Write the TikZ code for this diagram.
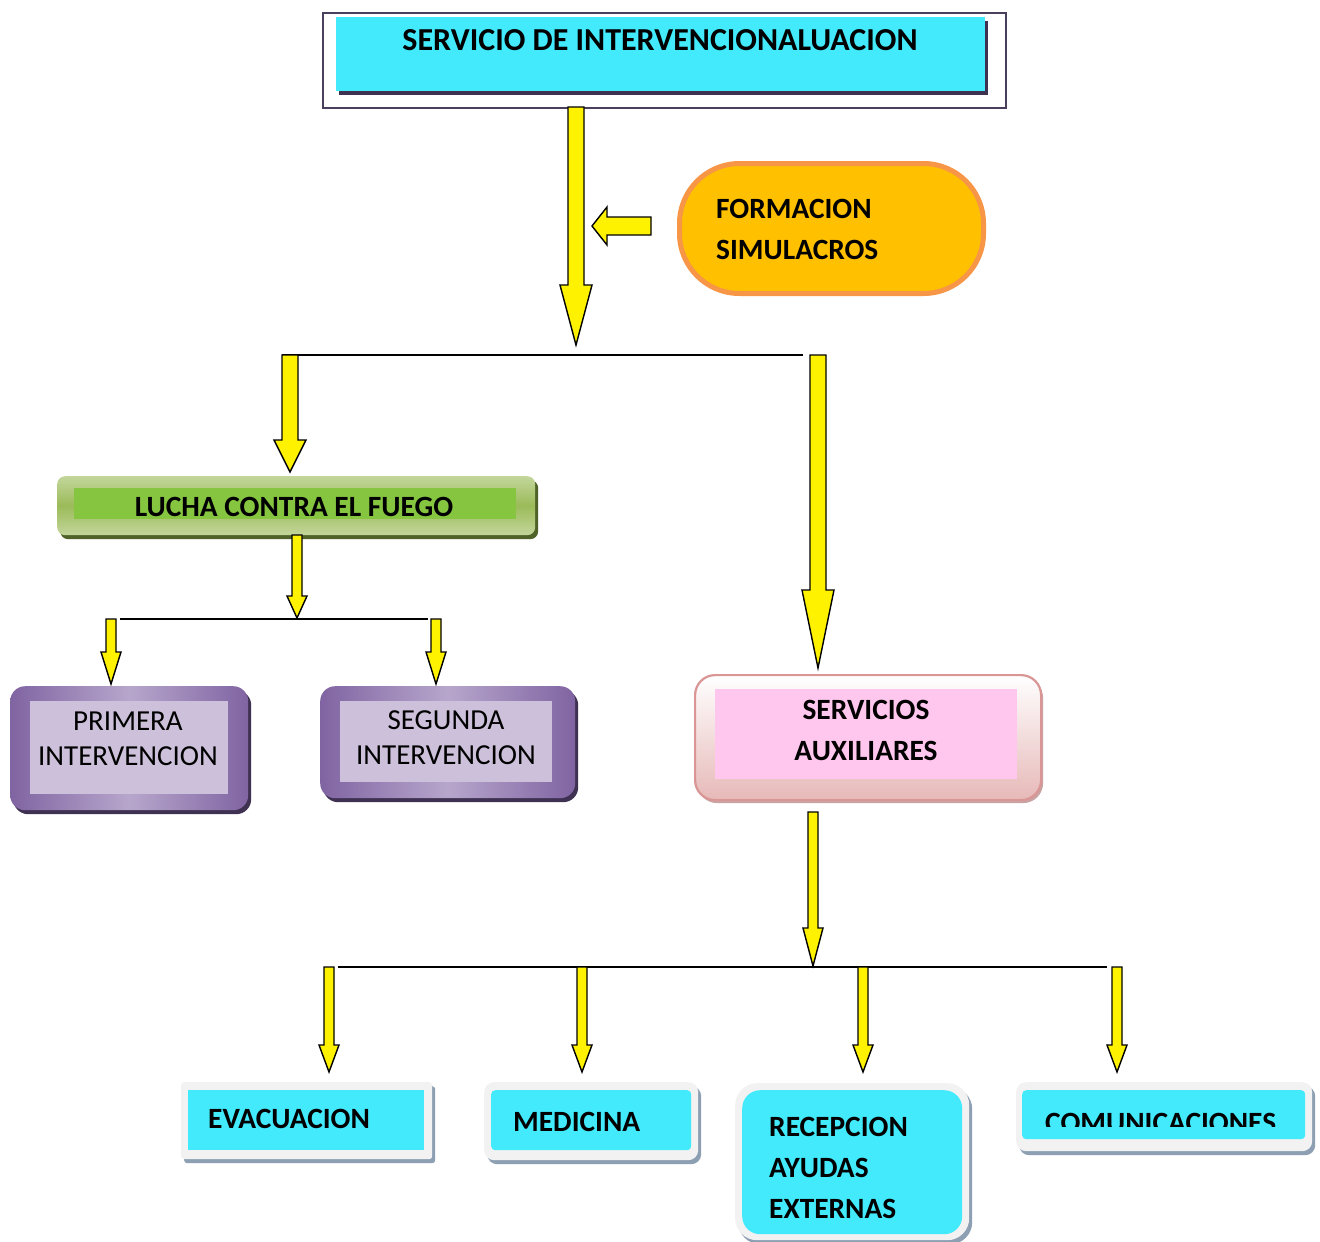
\documentclass[tikz,border=0pt]{standalone}
\usepackage{fontspec}
\setmainfont{Carlito}
\usetikzlibrary{calc,shadows}
\definecolor{cyanc}{HTML}{42EAFC}
\definecolor{framec}{HTML}{4B3F5E}
\definecolor{purdark}{HTML}{3F3151}
\definecolor{orfill}{HTML}{FFC000}
\definecolor{orline}{HTML}{F79646}
\definecolor{grlight}{HTML}{C3D69B}
\definecolor{grmid}{HTML}{9BBB59}
\definecolor{grinner}{HTML}{86C540}
\definecolor{grshadow}{HTML}{4F6228}
\definecolor{pudark}{HTML}{8064A2}
\definecolor{pulight}{HTML}{B7A6CC}
\definecolor{puinner}{HTML}{CCC0DA}
\definecolor{pkline}{HTML}{D99694}
\definecolor{pkbottom}{HTML}{E6B9B8}
\definecolor{pkinner}{HTML}{FFC6EE}
\definecolor{pkshadow}{HTML}{C9A3A3}
\definecolor{lgframe}{HTML}{F2F2F2}
\definecolor{lgshadow}{HTML}{8D9FB2}
\tikzset{
  bftext/.style={font=\fontsize{29.4}{41}\selectfont\bfseries, inner sep=0pt},
  toptextstyle/.style={font=\fontsize{32}{41}\selectfont\bfseries, inner sep=0pt},
  rgtext/.style={font=\fontsize{29}{35}\selectfont, inner sep=0pt},
  barrowstyle/.style={fill=yellow, draw=black, line width=1.4pt, line join=miter},
  hline/.style={draw=black, line width=1.5pt},
  box/.style={inner sep=0pt, anchor=north west},
  bottomframe/.style={box, fill=lgframe, drop shadow={shadow xshift=3pt, shadow yshift=-4pt, fill=lgshadow, opacity=1}},
  bottominner/.style={box, fill=cyanc},
}
\newcommand{\barr}[5]{%
  \filldraw[barrowstyle] let \p1=(#1), \p2=(#2) in
   (\x1-#3,\y1) -- (\x1+#3,\y1) -- (\x1+#3,\y2+#5) -- (\x1+#4,\y2+#5) -- (\x2,\y2)
   -- (\x1-#4,\y2+#5) -- (\x1-#3,\y2+#5) -- cycle;}
\begin{document}
\begin{tikzpicture}[x=1pt,y=-1pt]
\useasboundingbox[fill=white] (0,0) rectangle (1320,1242);

% ---------- top box
\node[box, draw=framec, line width=1.6pt, minimum width=683, minimum height=95] (frame) at (322,12) {};
\node[box, fill=cyanc, minimum width=649, minimum height=74,
      drop shadow={shadow xshift=3pt, shadow yshift=-4pt, fill=purdark, opacity=1}] (top) at (336,17) {};
\node[toptextstyle] (toptext) at (660,40) {SERVICIO DE INTERVENCIONALUACION};

% ---------- formacion
\node[box, fill=orfill, draw=orline, line width=5pt, rounded corners=60pt,
      minimum width=304, minimum height=130] (form) at (677,161) {};
\node[bftext, align=left, anchor=west] (formtext) at (716,229.5) {FORMACION\\SIMULACROS};

% ---------- lucha
\node[box, rounded corners=8pt, top color=grlight, bottom color=grlight, middle color=grmid,
      minimum width=478, minimum height=59,
      drop shadow={shadow xshift=3pt, shadow yshift=-4pt, fill=grshadow, opacity=1}] (lucha) at (57,476) {};
\node[box, fill=grinner, minimum width=442, minimum height=31] (luchain) at (74,488) {};
\node[bftext] (luchatext) at (294,507) {LUCHA CONTRA EL FUEGO};

% ---------- primera / segunda
\node[box, rounded corners=15pt, left color=pudark, right color=pudark, middle color=pulight,
      minimum width=238, minimum height=124,
      drop shadow={shadow xshift=3pt, shadow yshift=-4pt, fill=purdark, opacity=1}] (prim) at (10,686) {};
\node[box, fill=puinner, minimum width=198, minimum height=93] (primin) at (30,701) {};
\node[rgtext, align=center] (primtext) at (128,738.5) {PRIMERA\\INTERVENCION};

\node[box, rounded corners=15pt, left color=pudark, right color=pudark, middle color=pulight,
      minimum width=255, minimum height=112,
      drop shadow={shadow xshift=3pt, shadow yshift=-4pt, fill=purdark, opacity=1}] (seg) at (320,686) {};
\node[box, fill=puinner, minimum width=212, minimum height=81] (segin) at (340,701) {};
\node[rgtext, align=center] (segtext) at (446,738) {SEGUNDA\\INTERVENCION};

% ---------- servicios auxiliares
\node[box, rounded corners=20pt, top color=white, bottom color=pkbottom, draw=pkline, line width=2.2pt,
      minimum width=346, minimum height=125,
      drop shadow={shadow xshift=2pt, shadow yshift=-3pt, fill=pkshadow, opacity=1}] (aux) at (694,674) {};
\node[box, fill=pkinner, minimum width=302, minimum height=90] (auxin) at (715,689) {};
\node[bftext, align=center] (auxtext) at (866,730.5) {SERVICIOS\\AUXILIARES};

% ---------- bottom boxes
\node[bottomframe, rounded corners=3pt, minimum width=251, minimum height=77] (evac) at (181,1082) {};
\node[bottominner, minimum width=236, minimum height=60] (evacin) at (188,1090) {};
\node[bftext, anchor=west] (evactext) at (208,1119) {EVACUACION};

\node[bottomframe, rounded corners=10pt, minimum width=214, minimum height=78] (med) at (484,1082) {};
\node[bottominner, rounded corners=4pt, minimum width=200, minimum height=60] (medin) at (491,1090) {};
\node[bftext, anchor=west] (medtext) at (513,1122) {MEDICINA};

\node[bottomframe, rounded corners=22pt, minimum width=234, minimum height=157] (rec) at (735,1083) {};
\node[bottominner, rounded corners=18pt, minimum width=220, minimum height=144] (recin) at (742,1090) {};
\node[bftext, align=left, anchor=west] (rectext) at (769,1167.5) {RECEPCION\\AYUDAS\\EXTERNAS};

\node[bottomframe, rounded corners=10pt, minimum width=296, minimum height=69] (com) at (1016,1082) {};
\node[bottominner, rounded corners=4pt, minimum width=283, minimum height=49] (comin) at (1022,1090) {};
\begin{scope}
  \clip (1016,1082) rectangle (1312,1126);
  \node[bftext, anchor=west] (comtext) at (1045,1122.5) {COMUNICACIONES};
\end{scope}

% ---------- coordinates of connectors
\coordinate (a0s) at (576,107);  \coordinate (j1) at (576,345);
\coordinate (f1) at (651,226);   \coordinate (f2) at (592,226);
\coordinate (h1l) at (282,355);  \coordinate (h1r) at (803,355);
\coordinate (l1s) at (290,355);  \coordinate (l1e) at (290,472);
\coordinate (r1s) at (818,355);  \coordinate (r1e) at (818,668);
\coordinate (l2s) at (297,535);  \coordinate (j2) at (297,618);
\coordinate (h2l) at (120,619);  \coordinate (h2r) at (428,619);
\coordinate (p1s) at (111,619);  \coordinate (p1e) at (111,684);
\coordinate (s1s) at (436,619);  \coordinate (s1e) at (436,684);
\coordinate (a3s) at (813,812);  \coordinate (j3) at (813,966);
\coordinate (h3l) at (338,967);  \coordinate (h3r) at (1107,967);
\coordinate (b1s) at (329,967);  \coordinate (b1e) at (329,1072);
\coordinate (b2s) at (582,967);  \coordinate (b2e) at (582,1072);
\coordinate (b3s) at (863,967);  \coordinate (b3e) at (863,1072);
\coordinate (b4s) at (1117,967); \coordinate (b4e) at (1117,1072);

% ---------- lines
\draw[hline] (h1l) -- (h1r);
\draw[hline] (h2l) -- (h2r);
\draw[hline] (h3l) -- (h3r);

% ---------- block arrows
\barr{a0s}{j1}{8pt}{16pt}{60pt}
\filldraw[barrowstyle] let \p1=(f1), \p2=(f2) in
  (\x1,\y1+9pt) -- (\x2+15pt,\y1+9pt) -- (\x2+15pt,\y1+19pt) -- (\x2,\y2)
  -- (\x2+15pt,\y1-19pt) -- (\x2+15pt,\y1-9pt) -- (\x1,\y1-9pt) -- cycle;
\barr{l1s}{l1e}{8pt}{16pt}{32pt}
\barr{r1s}{r1e}{8pt}{16pt}{78pt}
\barr{l2s}{j2}{5pt}{10pt}{22pt}
\barr{p1s}{p1e}{5pt}{10pt}{32pt}
\barr{s1s}{s1e}{5pt}{10pt}{32pt}
\barr{a3s}{j3}{5pt}{10pt}{38pt}
\barr{b1s}{b1e}{5pt}{10pt}{27pt}
\barr{b2s}{b2e}{5pt}{10pt}{27pt}
\barr{b3s}{b3e}{5pt}{10pt}{27pt}
\barr{b4s}{b4e}{5pt}{10pt}{27pt}
\end{tikzpicture}
\end{document}
